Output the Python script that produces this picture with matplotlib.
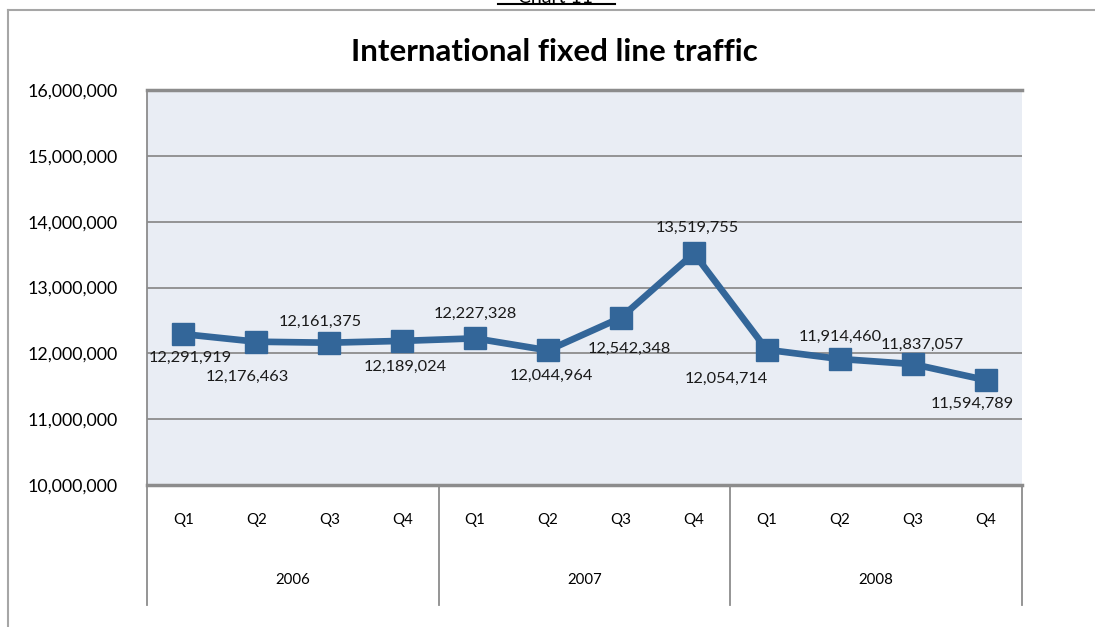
import matplotlib.pyplot as plt
from matplotlib.lines import Line2D
import matplotlib.transforms as mtransforms

# Data
years = ['2006', '2007', '2008']
quarters = ['Q1', 'Q2', 'Q3', 'Q4']
traffic = [12291919, 12176463, 12161375, 12189024,
           12227328, 12044964, 12542348, 13519755,
           12054714, 11914460, 11837057, 11594789]

# label offsets (pixels) relative to each marker
label_offsets = [(7, -24), (-9, -35), (-9, 21), (3, -26),
                 (0, 24), (3, -26), (8, -31), (3, 25),
                 (-40, -29), (1, 22), (10, 19), (-13, -24)]

W, H = 1095, 627
plt.rcParams['font.family'] = ['Lato', 'DejaVu Sans']

fig = plt.figure(figsize=(W / 100, H / 100), dpi=100)

# outer chart border (left and top only visible)
fig.add_artist(Line2D([8 / W, 8 / W], [0, 1 - 10 / H], color='#a6a6a6', lw=1.5))
fig.add_artist(Line2D([8 / W, 1], [1 - 10 / H, 1 - 10 / H], color='#a6a6a6', lw=1.5))

# "Chart 11" heading, cut off by the top edge as in the source
fig.text(556 / W, 1 - 6 / H, 'Chart 11', ha='center', va='bottom', fontsize=14)
fig.add_artist(Line2D([498 / W, 615 / W], [1 - 4 / H, 1 - 4 / H], color='black', lw=1.5))

ax = fig.add_axes([147 / W, (H - 485) / H, 875 / W, 395 / H])
ax.set_facecolor('#e9edf4')

x = list(range(len(traffic)))
ax.plot(x, traffic, color='#336699', lw=4.8, marker='s', markersize=15.5,
        solid_joinstyle='miter')

for xi, v, (dx, dy) in zip(x, traffic, label_offsets):
    ax.annotate(f'{v:,}', (xi, v), xytext=(dx, dy), textcoords='offset pixels',
                ha='center', va='center', fontsize=11.8, color='#1a1a1a')

ax.set_xlim(-0.5, len(traffic) - 0.5)
ax.set_ylim(10000000, 16000000)
ax.set_yticks(range(10000000, 16000001, 1000000))
ax.set_yticklabels([f'{t:,}' for t in range(10000000, 16000001, 1000000)])
ax.tick_params(axis='y', length=0, pad=21, labelsize=12.8)
ax.set_xticks([])
ax.grid(axis='y', color='#8c8c8c', lw=1.3)
ax.set_axisbelow(True)

ax.spines['right'].set_visible(False)
ax.spines['top'].set_color('#8c8c8c')
ax.spines['top'].set_linewidth(2.5)
ax.spines['left'].set_color('#8c8c8c')
ax.spines['left'].set_linewidth(1.3)
ax.spines['bottom'].set_color('#8c8c8c')
ax.spines['bottom'].set_linewidth(2.5)

# category axis: quarters and years
trans = mtransforms.blended_transform_factory(ax.transData, ax.transAxes)
for i in x:
    ax.text(i, -35 / 395, quarters[i % 4], transform=trans, ha='center', va='center',
            fontsize=10.8)
for j, yr in enumerate(years):
    ax.text(j * 4 + 1.5, -95 / 395, yr, transform=trans, ha='center', va='center',
            fontsize=10.8)
for b in [-0.5, 3.5, 7.5, 11.5]:
    ax.add_line(Line2D([b, b], [0, -120 / 395], transform=trans, color='#8c8c8c',
                       lw=1.3, clip_on=False))

fig.text(554 / W, 1 - 52 / H, 'International fixed line traffic',
         ha='center', va='center', fontsize=22.5, fontweight='bold')

fig.savefig('out.png', dpi=100)
